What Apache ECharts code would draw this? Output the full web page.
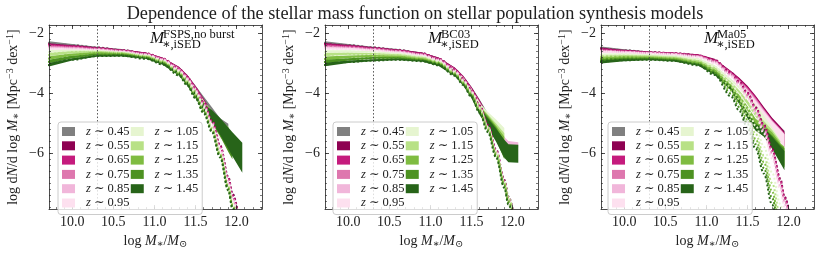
<!DOCTYPE html>
<html><head><meta charset="utf-8">
<script src="https://cdn.jsdelivr.net/npm/echarts@6/dist/echarts.min.js"></script>
<style>html,body{margin:0;padding:0;background:#fff}#c{width:830px;height:254px}</style>
</head><body><div id="c"></div>
<script>
const FONT = '"Liberation Serif", "DejaVu Serif", serif';
const TITLE = 'Dependence of the stellar mass function on stellar population synthesis models';
const REDSHIFTS = ['0.45','0.55','0.65','0.75','0.85','0.95','1.05','1.15','1.25','1.35','1.45'];
const COLORS = ['#808080','#8e0152','#c51b7d','#de77ae','#f1b6da','#fde0ef','#e6f5d0','#b8e186','#7fbc41','#4d9221','#276419'];
const MODELS = ['FSPS,no burst','BC03','Ma05'];
const X_TICKS = [10.0, 10.5, 11.0, 11.5, 12.0];
const Y_TICKS = [-2, -4, -6];
const X_RANGE = [9.717, 12.31];
const Y_RANGE = [-7.87, -1.71];
const MASS_LIMIT = 10.3;
// log M* grid
const LOGM = [9.7, 10.0, 10.3, 10.6, 10.9, 11.1, 11.3, 11.4, 11.5, 11.6, 11.7, 11.8, 11.9, 11.95, 12.07];

// Panel 1: FSPS, no burst — dotted model curves
const fspsLine = [
 [-2.30,-2.38,-2.46,-2.55,-2.68,-2.86,-3.20,-3.48,-3.86,-4.32,-4.92,-5.75,-6.80,-7.35,-8.9],
 [-2.35,-2.41,-2.47,-2.55,-2.66,-2.83,-3.17,-3.45,-3.84,-4.30,-4.90,-5.74,-6.80,-7.36,-8.9],
 [-2.38,-2.43,-2.49,-2.56,-2.67,-2.84,-3.18,-3.46,-3.85,-4.32,-4.93,-5.78,-6.85,-7.42,-9.0],
 [-2.42,-2.46,-2.51,-2.57,-2.68,-2.85,-3.20,-3.48,-3.88,-4.36,-4.97,-5.82,-6.90,-7.48,-9.0],
 [-2.46,-2.49,-2.53,-2.59,-2.70,-2.87,-3.22,-3.51,-3.91,-4.40,-5.01,-5.86,-6.95,-7.53,-9.1],
 [-2.50,-2.52,-2.55,-2.61,-2.72,-2.89,-3.24,-3.54,-3.94,-4.44,-5.05,-5.90,-7.00,-7.58,-9.1],
 [-2.62,-2.57,-2.58,-2.63,-2.74,-2.92,-3.28,-3.58,-3.99,-4.49,-5.11,-5.97,-7.07,-7.66,-9.2],
 [-2.72,-2.63,-2.61,-2.65,-2.76,-2.94,-3.31,-3.62,-4.04,-4.54,-5.16,-6.02,-7.12,-7.71,-9.2],
 [-2.84,-2.71,-2.65,-2.68,-2.79,-2.97,-3.34,-3.66,-4.08,-4.58,-5.20,-6.06,-7.16,-7.75,-9.3],
 [-2.95,-2.79,-2.70,-2.71,-2.81,-3.00,-3.37,-3.69,-4.12,-4.62,-5.24,-6.10,-7.20,-7.80,-9.3],
 [-3.06,-2.87,-2.75,-2.74,-2.84,-3.03,-3.40,-3.73,-4.16,-4.66,-5.28,-6.14,-7.25,-7.85,-9.4]
];
// Panel 1: measured mass function (band centres)
const fspsBand = [
 [-2.30,-2.38,-2.46,-2.54,-2.66,-2.84,-3.16,-3.42,-3.80,-4.20,-4.62,-5.05,-5.30,null,null],
 [-2.35,-2.41,-2.47,-2.55,-2.65,-2.82,-3.14,-3.42,-3.80,-4.25,-4.75,-5.30,null,null,null],
 [-2.38,-2.43,-2.49,-2.56,-2.66,-2.83,-3.15,-3.43,-3.81,-4.27,-4.78,-5.33,null,null,null],
 [-2.42,-2.46,-2.51,-2.57,-2.67,-2.84,-3.17,-3.45,-3.84,-4.30,-4.80,-5.35,null,null,null],
 [-2.46,-2.49,-2.53,-2.59,-2.69,-2.86,-3.19,-3.48,-3.87,-4.33,-4.82,-5.37,null,null,null],
 [-2.50,-2.52,-2.55,-2.61,-2.71,-2.88,-3.21,-3.50,-3.89,-4.35,-4.84,-5.38,null,null,null],
 [-2.60,-2.56,-2.57,-2.62,-2.72,-2.90,-3.24,-3.52,-3.90,-4.35,-4.75,-5.20,null,null,null],
 [-2.70,-2.62,-2.60,-2.64,-2.75,-2.92,-3.27,-3.56,-3.95,-4.38,-4.75,-5.15,-5.45,null,null],
 [-2.82,-2.70,-2.64,-2.67,-2.78,-2.95,-3.30,-3.60,-4.00,-4.42,-4.78,-5.15,-5.50,null,null],
 [-2.94,-2.78,-2.69,-2.70,-2.80,-2.98,-3.33,-3.64,-4.04,-4.45,-4.80,-5.15,-5.60,-5.80,null],
 [-3.05,-2.86,-2.74,-2.73,-2.82,-3.00,-3.36,-3.68,-4.08,-4.50,-4.75,-5.10,-5.50,-5.70,-6.15]
];
const fspsErr = [0.06,0.04,0.03,0.03,0.03,0.04,0.05,0.06,0.08,0.12,0.20,0.28,0.36,0.40,0.50];
const fspsErrScale = [0.8,0.6,0.6,0.6,0.6,0.6,0.8,0.9,1,1,1];

// Panel 2: BC03
const bc03Line = [
 [-2.30,-2.38,-2.46,-2.54,-2.66,-2.85,-3.22,-3.52,-3.90,-4.42,-5.07,-5.90,-6.90,-7.45,-9.0],
 [-2.34,-2.40,-2.47,-2.55,-2.66,-2.84,-3.20,-3.50,-3.88,-4.40,-5.05,-5.88,-6.90,-7.47,-9.0],
 [-2.37,-2.42,-2.49,-2.56,-2.67,-2.85,-3.22,-3.52,-3.90,-4.43,-5.08,-5.92,-6.95,-7.52,-9.0],
 [-2.41,-2.45,-2.51,-2.58,-2.69,-2.87,-3.24,-3.54,-3.93,-4.46,-5.11,-5.95,-6.98,-7.56,-9.1],
 [-2.45,-2.48,-2.53,-2.60,-2.71,-2.89,-3.26,-3.56,-3.95,-4.48,-5.13,-5.97,-7.00,-7.58,-9.1],
 [-2.49,-2.51,-2.56,-2.63,-2.73,-2.91,-3.28,-3.58,-3.97,-4.50,-5.15,-6.00,-7.03,-7.60,-9.1],
 [-2.62,-2.60,-2.62,-2.67,-2.77,-2.94,-3.30,-3.60,-3.98,-4.50,-5.13,-5.95,-6.95,-7.50,-8.9],
 [-2.72,-2.68,-2.68,-2.72,-2.81,-2.97,-3.32,-3.62,-4.00,-4.52,-5.15,-5.97,-6.97,-7.52,-8.9],
 [-2.85,-2.78,-2.75,-2.77,-2.85,-3.00,-3.35,-3.65,-4.04,-4.56,-5.20,-6.03,-7.04,-7.60,-9.0],
 [-2.95,-2.87,-2.82,-2.82,-2.89,-3.03,-3.38,-3.68,-4.08,-4.60,-5.25,-6.08,-7.10,-7.66,-9.1],
 [-3.05,-2.95,-2.90,-2.87,-2.92,-3.06,-3.41,-3.72,-4.12,-4.65,-5.30,-6.14,-7.16,-7.72,-9.2]
];
const bc03Band = [
 [-2.30,-2.38,-2.46,-2.54,-2.65,-2.83,-3.18,-3.46,-3.84,-4.30,-4.80,-5.30,null,null,null],
 [-2.34,-2.40,-2.47,-2.55,-2.65,-2.82,-3.17,-3.45,-3.83,-4.30,-4.82,-5.35,null,null,null],
 [-2.37,-2.42,-2.49,-2.56,-2.66,-2.83,-3.18,-3.46,-3.85,-4.32,-4.85,-5.38,null,null,null],
 [-2.41,-2.45,-2.51,-2.58,-2.68,-2.85,-3.20,-3.48,-3.87,-4.35,-4.88,-5.40,null,null,null],
 [-2.45,-2.48,-2.53,-2.60,-2.70,-2.87,-3.22,-3.50,-3.88,-4.36,-4.90,-5.35,-5.55,-5.68,-5.72],
 [-2.49,-2.51,-2.56,-2.63,-2.72,-2.89,-3.24,-3.52,-3.90,-4.38,-4.92,-5.42,null,null,null],
 [-2.60,-2.59,-2.61,-2.66,-2.76,-2.92,-3.26,-3.54,-3.95,-4.42,-4.75,-5.05,-5.40,null,null],
 [-2.70,-2.67,-2.67,-2.71,-2.80,-2.95,-3.29,-3.57,-3.97,-4.50,-4.85,-5.20,-5.60,null,null],
 [-2.83,-2.77,-2.74,-2.76,-2.84,-2.98,-3.32,-3.60,-4.00,-4.55,-4.90,-5.30,-5.75,null,null],
 [-2.94,-2.86,-2.81,-2.81,-2.88,-3.01,-3.35,-3.64,-4.04,-4.58,-4.95,-5.35,-5.90,null,null],
 [-3.04,-2.94,-2.89,-2.86,-2.91,-3.04,-3.38,-3.68,-4.08,-4.60,-5.00,-5.40,-5.85,-6.00,-6.02]
];
const bc03Err = [0.06,0.04,0.03,0.03,0.03,0.04,0.05,0.06,0.08,0.12,0.16,0.22,0.30,0.30,0.30];
const bc03ErrScale = [0.8,0.6,0.6,0.6,0.3,0.6,0.8,0.9,1,1,1];

// Panel 3: Ma05
const ma05Line = [
 [-2.47,-2.55,-2.62,-2.66,-2.74,-2.92,-3.35,-3.65,-4.02,-4.50,-5.10,-5.90,-6.90,-7.50,-9.0],
 [-2.50,-2.57,-2.62,-2.65,-2.72,-2.88,-3.30,-3.60,-3.98,-4.46,-5.05,-5.85,-6.85,-7.45,-9.0],
 [-2.53,-2.58,-2.63,-2.66,-2.73,-2.90,-3.33,-3.63,-4.01,-4.50,-5.10,-5.90,-6.92,-7.50,-9.0],
 [-2.56,-2.60,-2.64,-2.67,-2.75,-2.93,-3.36,-3.67,-4.06,-4.56,-5.17,-5.98,-7.00,-7.60,-9.1],
 [-2.58,-2.62,-2.65,-2.69,-2.77,-2.96,-3.40,-3.72,-4.12,-4.63,-5.25,-6.07,-7.10,-7.70,-9.2],
 [-2.60,-2.63,-2.66,-2.70,-2.79,-2.99,-3.45,-3.78,-4.20,-4.72,-5.35,-6.18,-7.22,-7.80,-9.3],
 [-2.72,-2.70,-2.72,-2.76,-2.86,-3.10,-3.65,-4.02,-4.50,-5.08,-5.78,-6.65,-7.70,-8.30,-9.8],
 [-2.78,-2.75,-2.76,-2.80,-2.92,-3.18,-3.78,-4.20,-4.72,-5.35,-6.08,-7.00,-8.10,-8.70,-10.2],
 [-2.84,-2.80,-2.80,-2.84,-2.97,-3.25,-3.90,-4.34,-4.88,-5.53,-6.30,-7.28,-8.45,-9.00,-10.5],
 [-2.90,-2.85,-2.84,-2.88,-3.02,-3.32,-4.00,-4.46,-5.02,-5.70,-6.50,-7.50,-8.70,-9.30,-10.8],
 [-2.95,-2.89,-2.87,-2.91,-3.06,-3.38,-4.10,-4.58,-5.15,-5.85,-6.68,-7.72,-8.95,-9.60,-11.0]
];
const ma05Band = [
 [-2.47,-2.55,-2.62,-2.66,-2.73,-2.90,-3.32,-3.56,-3.85,-4.20,-4.60,-5.00,-5.35,-5.50,null],
 [-2.50,-2.57,-2.62,-2.65,-2.71,-2.87,-3.28,-3.52,-3.80,-4.15,-4.55,-4.95,-5.30,-5.50,null],
 [-2.53,-2.58,-2.63,-2.66,-2.72,-2.89,-3.30,-3.55,-3.83,-4.18,-4.60,-5.00,-5.35,-5.55,null],
 [-2.56,-2.60,-2.64,-2.67,-2.74,-2.91,-3.33,-3.58,-3.87,-4.22,-4.63,-5.03,-5.38,-5.57,null],
 [-2.58,-2.62,-2.65,-2.69,-2.76,-2.94,-3.36,-3.62,-3.92,-4.27,-4.66,-5.05,-5.40,-5.58,null],
 [-2.60,-2.63,-2.66,-2.70,-2.78,-2.97,-3.40,-3.66,-3.96,-4.32,-4.70,-5.08,-5.42,-5.60,null],
 [-2.71,-2.69,-2.71,-2.75,-2.84,-3.08,-3.55,-3.80,-4.10,-4.45,-4.85,-5.30,-5.80,null,null],
 [-2.77,-2.74,-2.75,-2.79,-2.90,-3.15,-3.65,-3.95,-4.30,-4.70,-5.05,-5.40,-5.85,null,null],
 [-2.83,-2.79,-2.79,-2.83,-2.95,-3.22,-3.75,-4.10,-4.50,-4.95,-5.20,-5.50,-5.95,-6.10,null],
 [-2.89,-2.84,-2.83,-2.87,-3.00,-3.28,-3.80,-4.22,-4.70,-5.10,-5.30,-5.60,-6.00,-6.15,null],
 [-2.94,-2.88,-2.86,-2.90,-3.04,-3.34,-3.85,-4.30,-4.75,-5.15,-5.30,-5.65,-6.05,-6.25,null]
];
const ma05Err = [0.06,0.04,0.03,0.03,0.03,0.04,0.05,0.06,0.08,0.10,0.14,0.20,0.28,0.32,0.35];
const ma05ErrScale = [0.8,0.7,0.7,0.7,0.7,0.7,0.8,0.9,1,1,1];

const PANELS = [
  {line: fspsLine, band: fspsBand, err: fspsErr, scale: fspsErrScale, left: 49, legendLeft: 58, labelX: 150},
  {line: bc03Line, band: bc03Band, err: bc03Err, scale: bc03ErrScale, left: 325, legendLeft: 333, labelX: 428},
  {line: ma05Line, band: ma05Band, err: ma05Err, scale: ma05ErrScale, left: 601, legendLeft: 608, labelX: 704}
];

function range(a, b, s) { const r = []; for (let v = a; v <= b + 1e-9; v += s) r.push(+v.toFixed(3)); return r; }
const X_MINOR = range(9.8, 12.3, 0.1);
const Y_MINOR = range(-7.8, -1.8, 0.2);

const TXT = '#222';
const LBL = 14;
const grids = [], xAxes = [], yAxes = [], series = [], legends = [], graphics = [];
const names = REDSHIFTS.map(z => 'z \u223c ' + z);

PANELS.forEach((P, p) => {
  grids.push({left: P.left, top: 25, width: 213, height: 190, containLabel: false});
  const common = {type: 'value', gridIndex: p, splitLine: {show: false}};
  const xr = {min: X_RANGE[0], max: X_RANGE[1]};
  const yr = {min: Y_RANGE[0], max: Y_RANGE[1]};
  xAxes.push(Object.assign({}, common, xr, {position: 'bottom', z: 5,
    axisLine: {show: true, onZero: false, lineStyle: {color: TXT, width: 0.8}},
    axisTick: {show: true, inside: true, length: 4, customValues: X_TICKS, lineStyle: {color: TXT, width: 0.8}},
    axisLabel: {show: true, customValues: X_TICKS, margin: 6, formatter: v => v.toFixed(1), fontFamily: FONT, fontSize: LBL, color: TXT},
    name: 'log {i|M}{s|\u2217}/{i|M}{s|\u2299}', nameLocation: 'middle', nameGap: 22,
    nameTextStyle: {fontFamily: FONT, fontSize: LBL, color: TXT, rich: {i: {fontFamily: FONT, fontStyle: 'italic', fontSize: LBL, color: TXT}, s: {fontFamily: FONT, fontSize: 10, color: TXT, verticalAlign: 'bottom', padding: [6,0,0,0]}}}
  }));
  xAxes.push(Object.assign({}, common, xr, {position: 'bottom', z: 5, axisLine: {show: false, onZero: false},
    axisTick: {show: true, inside: true, length: 2, customValues: X_MINOR, lineStyle: {color: TXT, width: 0.6}}, axisLabel: {show: false}}));
  xAxes.push(Object.assign({}, common, xr, {position: 'top', z: 5,
    axisLine: {show: true, onZero: false, lineStyle: {color: TXT, width: 0.8}},
    axisTick: {show: true, inside: true, length: 4, customValues: X_TICKS, lineStyle: {color: TXT, width: 0.8}}, axisLabel: {show: false}}));
  xAxes.push(Object.assign({}, common, xr, {position: 'top', z: 5, axisLine: {show: false, onZero: false},
    axisTick: {show: true, inside: true, length: 2, customValues: X_MINOR, lineStyle: {color: TXT, width: 0.6}}, axisLabel: {show: false}}));
  yAxes.push(Object.assign({}, common, yr, {position: 'left', z: 5,
    axisLine: {show: true, onZero: false, lineStyle: {color: TXT, width: 0.8}},
    axisTick: {show: true, inside: true, length: 4, customValues: Y_TICKS, lineStyle: {color: TXT, width: 0.8}},
    axisLabel: {show: true, customValues: Y_TICKS, margin: 5, formatter: v => (v < 0 ? '\u2212' : '') + Math.abs(v), fontFamily: FONT, fontSize: LBL, color: TXT},
    name: 'log d{i|N}/d log {i|M}{s|\u2217} [Mpc{u|\u22123} dex{u|\u22121}]', nameLocation: 'middle', nameGap: 28, nameRotate: 90,
    nameTextStyle: {fontFamily: FONT, fontSize: LBL, color: TXT, rich: {
      i: {fontFamily: FONT, fontStyle: 'italic', fontSize: LBL, color: TXT},
      s: {fontFamily: FONT, fontSize: 10, color: TXT, verticalAlign: 'bottom', padding: [6,0,0,0]},
      u: {fontFamily: FONT, fontSize: 10, color: TXT, verticalAlign: 'top', padding: [0,0,6,0]}}}
  }));
  yAxes.push(Object.assign({}, common, yr, {position: 'left', z: 5, axisLine: {show: false, onZero: false},
    axisTick: {show: true, inside: true, length: 2, customValues: Y_MINOR, lineStyle: {color: TXT, width: 0.6}}, axisLabel: {show: false}}));
  yAxes.push(Object.assign({}, common, yr, {position: 'right', z: 5,
    axisLine: {show: true, onZero: false, lineStyle: {color: TXT, width: 0.8}},
    axisTick: {show: true, inside: true, length: 4, customValues: Y_TICKS, lineStyle: {color: TXT, width: 0.8}}, axisLabel: {show: false}}));
  yAxes.push(Object.assign({}, common, yr, {position: 'right', z: 5, axisLine: {show: false, onZero: false},
    axisTick: {show: true, inside: true, length: 2, customValues: Y_MINOR, lineStyle: {color: TXT, width: 0.6}}, axisLabel: {show: false}}));

  const xi = 4 * p, yi = 4 * p;
  // bands first (below), then dotted model curves on top
  REDSHIFTS.forEach((z, k) => {
    const color = COLORS[k];
    const pts = [];
    LOGM.forEach((x, i) => { const m = P.band[k][i]; if (m !== null) { const e = P.err[i] * P.scale[k]; pts.push([x, m - e, m + e]); } });
    series.push({
      type: 'custom', name: names[k], xAxisIndex: xi, yAxisIndex: yi, clip: true, silent: true, z: 2,
      animation: false, itemStyle: {color: color, opacity: 1}, encode: {x: 0, y: [1, 2]}, data: pts,
      renderItem: function (params, api) {
        if (params.dataIndex !== 0) return null;
        const up = pts.map(d => api.coord([d[0], d[2]]));
        const lo = pts.map(d => api.coord([d[0], d[1]])).reverse();
        return {type: 'polygon', shape: {points: up.concat(lo)}, style: {fill: color, stroke: null}};
      }
    });
  });
  REDSHIFTS.forEach((z, k) => {
    const color = COLORS[k];
    const ls = {
      type: 'line', name: names[k], xAxisIndex: xi, yAxisIndex: yi, silent: true, animation: false, z: 3,
      showSymbol: false, smooth: 0.35, smoothMonotone: 'x', clip: true,
      lineStyle: {color: color, width: 2, type: [2, 2.2], cap: 'butt'}, itemStyle: {color: color},
      data: LOGM.map((x, i) => [x, P.line[k][i]])
    };
    if (k === REDSHIFTS.length - 1) {
      ls.markLine = {silent: true, symbol: 'none', label: {show: false}, animation: false,
        lineStyle: {type: [1.5, 2], color: '#555', width: 1}, data: [{xAxis: MASS_LIMIT}]};
    }
    series.push(ls);
  });

  legends.push({
    left: P.legendLeft, top: 122, orient: 'vertical', height: 94, itemWidth: 13, itemHeight: 9, itemGap: 1.3,
    icon: 'rect', padding: [3, 4, 5, 4], backgroundColor: 'rgba(255,255,255,0.8)', borderColor: '#ccc',
    borderWidth: 1, borderRadius: 3, selectedMode: false, data: names, z: 6,
    formatter: n => '{p|}' + n.replace('z', '{i|z}'),
    textStyle: {fontFamily: FONT, fontSize: 12.5, color: TXT, lineHeight: 12, width: 46,
      rich: {i: {fontFamily: FONT, fontStyle: 'italic', fontSize: 12.5, color: TXT, lineHeight: 12}, p: {width: 6}}}
  });

  const lx = P.labelX;
  graphics.push({type: 'text', x: lx, y: 30, z: 100, style: {text: 'M', font: 'italic 17px ' + FONT, fill: '#111'}});
  graphics.push({type: 'text', x: lx + 13, y: 28, z: 100, style: {text: MODELS[p], font: '12.5px ' + FONT, fill: '#111'}});
  graphics.push({type: 'text', x: lx + 12, y: 38, z: 100, style: {text: '\u2217,iSED', font: '12.5px ' + FONT, fill: '#111'}});
});

const chart = echarts.init(document.getElementById('c'), null, {renderer: 'canvas'});
chart.setOption({
  animation: false,
  backgroundColor: '#fff',
  title: {text: TITLE, left: 'center', top: 0, textStyle: {fontFamily: FONT, fontSize: 18.3, fontWeight: 'normal', color: TXT}},
  grid: grids, xAxis: xAxes, yAxis: yAxes, series: series, legend: legends, graphic: graphics
});
</script></body></html>
